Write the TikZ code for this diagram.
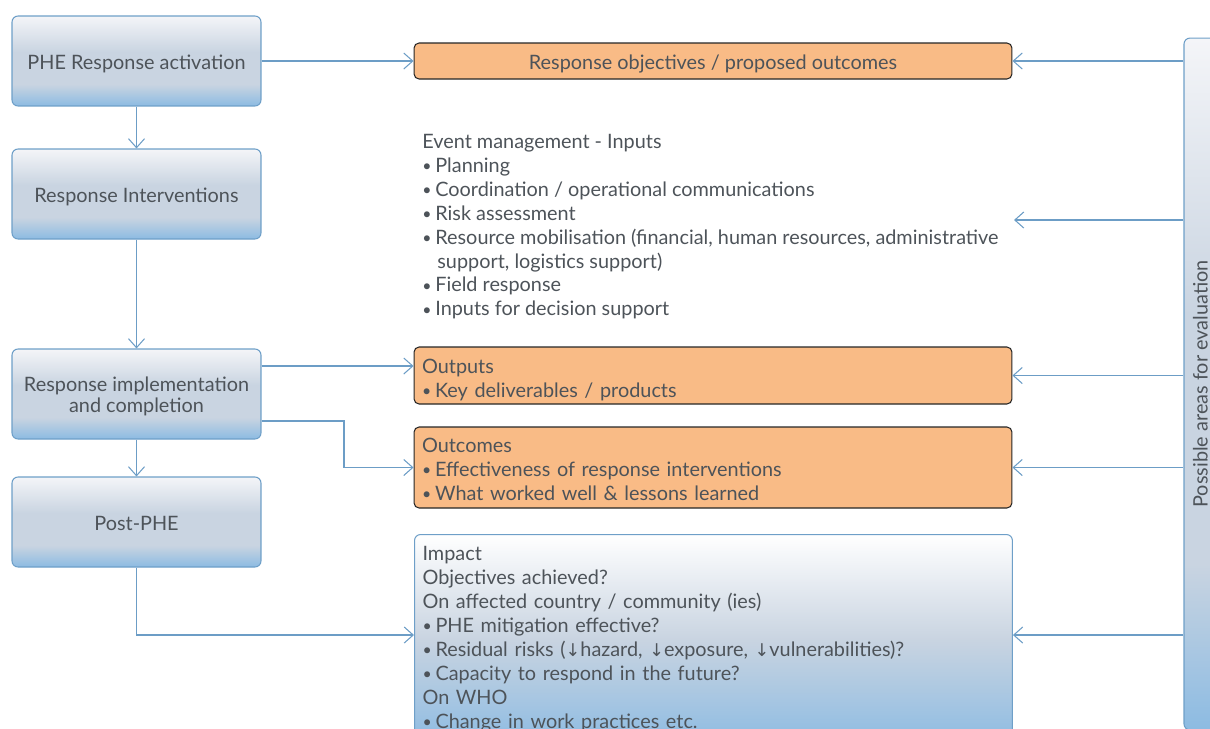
\documentclass[tikz,border=0pt]{standalone}
\usepackage{fontspec}
\setmainfont{Lato}
\newfontfamily\symfont{DejaVu Sans}
\usetikzlibrary{arrows.meta}
\definecolor{txt}{HTML}{4D5359}
\definecolor{lineblue}{HTML}{6C9DC6}
\definecolor{bordblue}{HTML}{6E9FC8}
\definecolor{orng}{HTML}{F9BB86}
\definecolor{gtop}{HTML}{F4F5F8}
\definecolor{gmid}{HTML}{C9D4E1}
\definecolor{gbot}{HTML}{8CBBE2}
\pgfdeclareverticalshading{bluegrad}{100bp}{color(0bp)=(gbot); color(25bp)=(gbot); color(37bp)=(gmid); color(55bp)=(gmid); color(75bp)=(gtop); color(100bp)=(gtop)}
\pgfdeclareverticalshading{impgrad}{100bp}{color(0bp)=(gbot); color(25bp)=(gbot); color(32bp)=(gbot!70!gmid); color(50bp)=(gmid); color(75bp)=(white); color(100bp)=(white)}
\newcommand\bl{\makebox[0.26cm][l]{\raisebox{0.04em}{\scalebox{0.8}{•}}}}
\begin{document}
\begin{tikzpicture}[x=0.02cm,y=-0.02cm,
  font=\fontsize{11.3}{13.6}\selectfont, text=txt,
  stage/.style={draw=bordblue, line width=0.6pt, rounded corners=0.12cm, shade, shading=bluegrad,
    minimum width=4.98cm, minimum height=1.8cm, align=center, inner sep=2pt,
    text height=9.1pt, text depth=0pt},
  obox/.style={draw=black!85, line width=0.6pt, fill=orng, rounded corners=0.1cm,
    minimum width=11.96cm, inner xsep=0.16cm, text height=9.1pt},
  arr/.style={draw=lineblue, line width=0.6pt, -{Straight Barb[length=0.18cm,width=0.32cm]}}]
\useasboundingbox (0,0) rectangle (1210,728);
\clip (0,0) rectangle (1210,728);

% left column
\node[stage] (act) at (136.5,61) {PHE Response activation};
\node[stage] (int) at (136.5,194) {Response Interventions};
\node[stage, font=\fontsize{11.3}{12}\selectfont, text height=23.3pt, text depth=2.3pt] (impl) at (136.5,394) {Response implementation\\and completion};
\node[stage] (post) at (136.5,522) {Post-PHE};

% middle column
\node[obox, minimum height=0.72cm, align=center, text depth=0pt] (obj) at (713,61) {Response objectives / proposed outcomes};
\node[anchor=north west, align=left, inner sep=0pt] (ev) at (422,134) {Event management - Inputs\\
\bl Planning\\
\bl Coordination / operational communications\\
\bl Risk assessment\\
\bl Resource mobilisation (financial, human resources, administrative\\
\hspace*{0.3cm}support, logistics support)\\
\bl Field response\\
\bl Inputs for decision support};
\coordinate (evR) at (1014,220);
\node[obox, minimum height=1.14cm, text width=11.64cm, align=left, text depth=11.4pt] (outp) at (713,375.5) {Outputs\\\bl Key deliverables / products};
\node[obox, minimum height=1.62cm, text width=11.64cm, align=left, text depth=26pt] (outc) at (713,467.5) {Outcomes\\\bl Effectiveness of response interventions\\\bl What worked well \& lessons learned};
\node[draw=bordblue, line width=0.6pt, rounded corners=0.12cm, shade, shading=impgrad,
  anchor=north west, minimum width=11.96cm, text width=11.64cm, inner xsep=0.16cm, inner ysep=0.24cm, align=left] (imp) at (414,534) {Impact\\
Objectives achieved?\\
On affected country / community (ies)\\
\bl PHE mitigation effective?\\
\bl Residual risks ({\symfont\fontsize{10}{12}\selectfont↓}hazard, {\symfont\fontsize{10}{12}\selectfont↓}exposure, {\symfont\fontsize{10}{12}\selectfont↓}vulnerabilities)?\\
\bl Capacity to respond in the future?\\
On WHO\\
\bl Change in work practices etc.\\[4pt]};

% right bar
\node[draw=bordblue, line width=0.6pt, rounded corners=0.12cm, shade, shading=bluegrad,
  rotate=90, minimum width=13.84cm, minimum height=0.72cm, inner sep=0pt, text depth=2pt] (bar) at (1202,384) {Possible areas for evaluation};

% connectors
\draw[arr] (act.east) -- (obj.west);
\draw[arr] (act) -- (int);
\draw[arr] (int) -- (impl);
\draw[arr] (impl) -- (post);
\draw[arr] (impl.east |- 0,366) -- (outp.west |- 0,366);
\draw[arr] (impl.east |- 0,421) -| (344,467.5) -- (outc.west);
\draw[arr] (post.south) |- (imp.west |- 0,635);

\draw[arr] (bar.north |- obj.east) -- (obj.east);
\draw[arr] (bar.north |- evR) -- (evR);
\draw[arr] (bar.north |- outp.east) -- (outp.east);
\draw[arr] (bar.north |- outc.east) -- (outc.east);
\draw[arr] (bar.north |- 0,635) -- (imp.east |- 0,635);
\end{tikzpicture}
\end{document}
